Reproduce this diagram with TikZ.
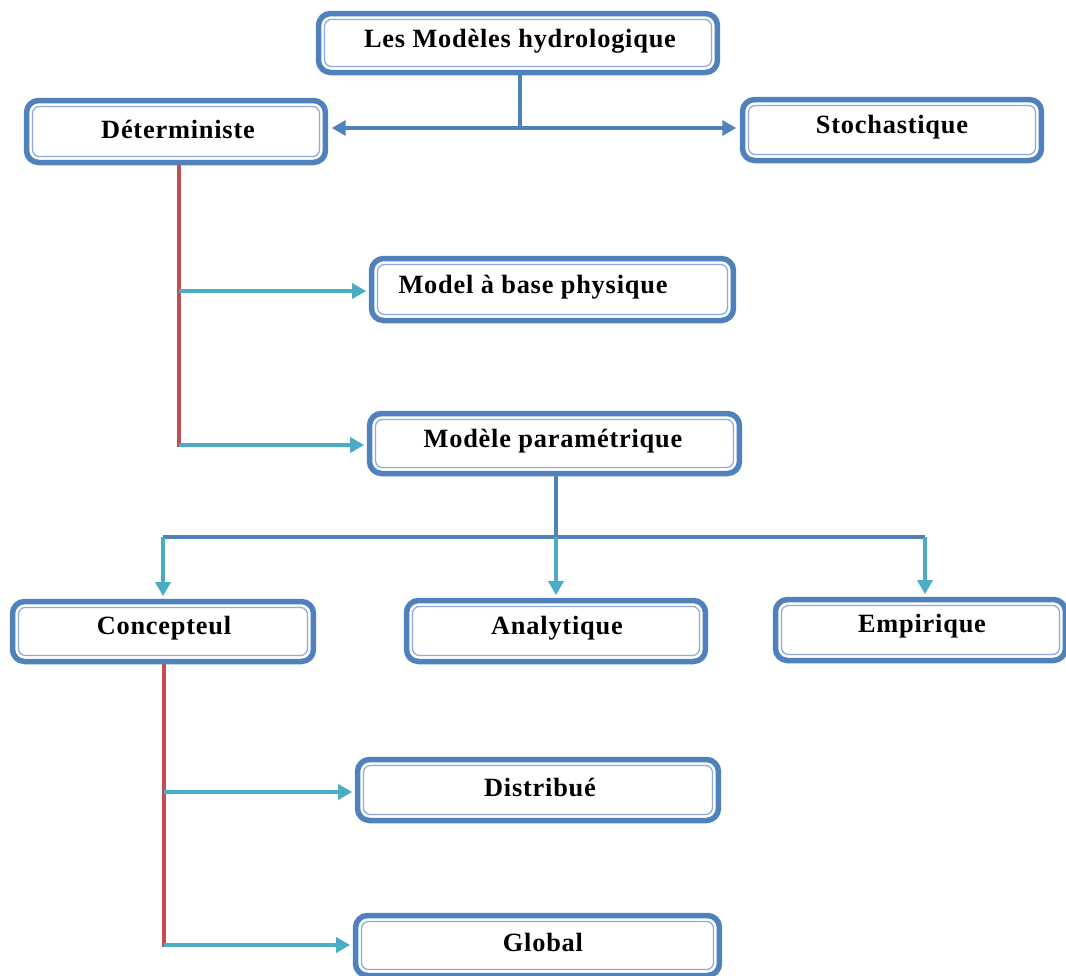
\documentclass[tikz,border=0pt]{standalone}
\usepackage{fontspec}
\setmainfont{Liberation Serif}[LetterSpace=3]
\usetikzlibrary{arrows.meta}
\definecolor{boxblue}{HTML}{4F81BD}
\definecolor{innerblue}{HTML}{8EAADB}
\definecolor{arrcyan}{HTML}{4BACC6}
\definecolor{linered}{HTML}{C0504D}
\begin{document}
\begin{tikzpicture}[x=0.02cm,y=-0.02cm,
  box/.style={draw=boxblue, line width=0.11cm, rounded corners=0.24cm, fill=white, inner sep=0pt,
    path picture={\draw[innerblue, line width=0.7pt, rounded corners=0.14cm]
      ([shift={(3.4pt,3.4pt)}]path picture bounding box.south west) rectangle
      ([shift={(-3.4pt,-3.4pt)}]path picture bounding box.north east);}},
  lbl/.style={font=\fontsize{15}{17}\selectfont\bfseries, inner sep=0pt},
  bline/.style={draw=boxblue, line width=0.09cm},
  rline/.style={draw=linered, line width=0.09cm},
  barrow/.style={draw=boxblue, line width=0.09cm, -{Triangle[length=0.28cm,width=0.3cm]}, shorten >=2pt},
  carrow/.style={draw=arrcyan, line width=0.09cm, -{Triangle[length=0.28cm,width=0.3cm]}, shorten >=1.5pt},
]
\useasboundingbox (0,0) rectangle (1066,975);
\clip (0,0) rectangle (1066,975);

% boxes
\node[box, minimum width=7.98cm, minimum height=1.18cm] (top) at (518,43) {};
\node[box, minimum width=5.98cm, minimum height=1.24cm] (det) at (176,131.5) {};
\node[box, minimum width=5.98cm, minimum height=1.22cm] (sto) at (892,130) {};
\node[box, minimum width=7.24cm, minimum height=1.24cm] (phys) at (552.5,289.5) {};
\node[box, minimum width=7.40cm, minimum height=1.20cm] (para) at (554.5,443.5) {};
\node[box, minimum width=6.02cm, minimum height=1.20cm] (conc) at (163,631.5) {};
\node[box, minimum width=5.98cm, minimum height=1.22cm] (ana) at (556,631) {};
\node[box, minimum width=5.80cm, minimum height=1.22cm] (emp) at (920.5,630) {};
\node[box, minimum width=7.22cm, minimum height=1.22cm] (dist) at (538,790) {};
\node[box, minimum width=7.28cm, minimum height=1.20cm] (glob) at (537.5,945.5) {};

% labels
\node[lbl] (ttop) at (520,41) {Les Modèles hydrologique};
\node[lbl] (tdet) at (178,129) {Déterministe};
\node[lbl] (tsto) at (892,127) {Stochastique};
\node[lbl] (tphys) at (533,287) {Model à base physique};
\node[lbl] (tpara) at (553,441) {Modèle paramétrique};
\node[lbl] (tconc) at (164,628) {Concepteul};
\node[lbl] (tana) at (557,628) {Analytique};
\node[lbl] (temp) at (922,626) {Empirique};
\node[lbl] (tdist) at (540,787) {Distribué};
\node[lbl] (tglob) at (543,942) {Global};

% top split
\coordinate (j1) at (520,128);
\draw[bline] (top.south -| j1) -- (j1);
\draw[barrow] (j1) -- (j1 -| det.east);
\draw[barrow] (j1) -- (j1 -| sto.west);

% deterministe branch
\coordinate (r1) at (179,291);
\coordinate (r2) at (179,445);
\draw[rline] (det.south -| r1) -- ([yshift=-1.2pt]r2);
\draw[carrow] (r1) -- (r1 -| phys.west);
\draw[carrow] (r2) -- (r2 -| para.west);

% parametrique split
\coordinate (p0) at (556,537);
\coordinate (pl) at (163,537);
\coordinate (pr) at (925,537);
\draw[bline] (para.south -| p0) -- (p0);
\draw[bline] (pl) -- (pr);
\draw[carrow] (pl) -- (pl |- conc.north);
\draw[carrow] (p0) -- (p0 |- ana.north);
\draw[carrow] (pr) -- (pr |- emp.north);

% concepteul branch
\coordinate (s1) at (164,792);
\coordinate (s2) at (164,945);
\draw[rline] (conc.south -| s1) -- ([yshift=-1.2pt]s2);
\draw[carrow] (s1) -- (s1 -| dist.west);
\draw[carrow] (s2) -- (s2 -| glob.west);
\end{tikzpicture}
\end{document}
